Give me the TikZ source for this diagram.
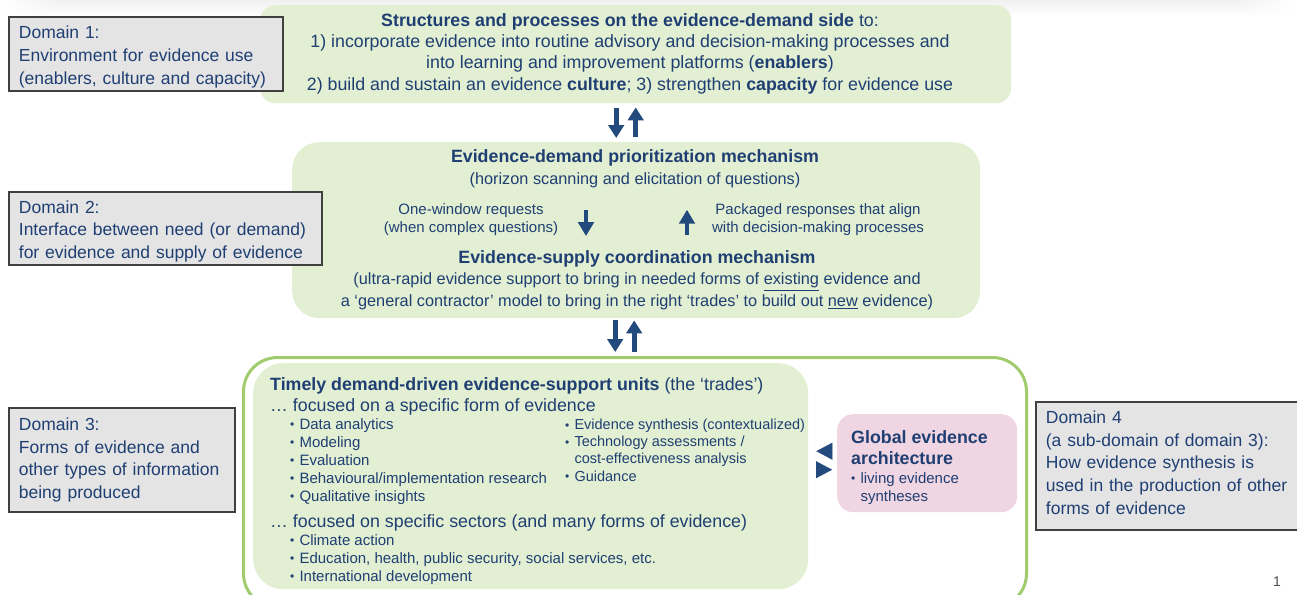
\documentclass[tikz,border=0pt]{standalone}
\usepackage{fontspec}
\setmainfont{Liberation Sans}
\usetikzlibrary{arrows.meta,shadings,fadings}
\definecolor{ink}{HTML}{1F3F73}
\definecolor{arrowblue}{HTML}{234A7D}
\definecolor{greenfill}{HTML}{E2EFD2}
\definecolor{greenline}{HTML}{A0CC6E}
\definecolor{pinkfill}{HTML}{F0D5E3}
\definecolor{greyfill}{HTML}{E4E4E4}
\definecolor{greyline}{HTML}{404040}
\newcommand{\bu}{\makebox[9.3pt][l]{\raisebox{0.5pt}{\fontsize{12}{12}\selectfont •}}}
\newcommand{\pushdown}{\rule{0pt}{18.6pt}}
\newcommand{\pushup}{\rule[-7pt]{0pt}{7pt}}
\tikzset{
  x=1pt,y=-1pt,
  txt/.style={inner sep=0pt,text=ink,font=\fontsize{17.8}{21.4}\selectfont},
  small/.style={inner sep=0pt,text=ink,font=\fontsize{15}{18.1}\selectfont},
  domainbox/.style={draw=greyline,line width=1.8pt,fill=greyfill,anchor=north west,inner ysep=0pt,inner xsep=10pt,text=ink,
    align=left,font=\fontsize{17.5}{22.7}\selectfont},
  panel/.style={fill=greenfill,anchor=north west,inner sep=0pt},
  updown/.style={draw=arrowblue,line width=4.6pt,-{Triangle[length=13pt,width=15.5pt]}},
  updownsmall/.style={draw=arrowblue,line width=4.4pt,-{Triangle[length=14pt,width=15.5pt]}},
  headonly/.style={draw=arrowblue,line width=0.01pt,-{Triangle[length=16pt,width=17pt]}},
}
\begin{document}
\begin{tikzpicture}
\useasboundingbox (0,0) rectangle (1297,594);
\clip (0,0) rectangle (1297,594);
% faint strip along the top
\shade[top color=black!6,bottom color=white] (0,0) rectangle (1297,16);
\fill[white,path fading=east] (0,0) rectangle (60,17);
\fill[white,path fading=west] (1230,0) rectangle (1297,17);
% panels
\node[panel,minimum width=751pt,minimum height=98pt,rounded corners=15pt] (top) at (260,5) {};
\node[panel,minimum width=688pt,minimum height=176pt,rounded corners=27pt] (mid) at (292,142) {};
\node[draw=greenline,line width=3pt,anchor=north west,inner sep=0pt,minimum width=783pt,minimum height=250pt,rounded corners=34pt] (outer) at (242,356) {};
\node[panel,minimum width=555pt,minimum height=226pt,rounded corners=30pt] (inner) at (253,363) {};
\node[fill=pinkfill,anchor=north west,inner sep=0pt,minimum width=180pt,minimum height=98pt,rounded corners=16pt] (pink) at (837,414) {};
% domain boxes
\node[domainbox,minimum height=74pt,text width=254pt] (d1) at (8,16) {\pushdown Domain 1:\\Environment for evidence use\\(enablers, culture and capacity)};
\node[domainbox,minimum height=73pt,text width=293pt] (d2) at (8,191) {\pushdown Domain 2:\\Interface between need (or demand)\\for evidence and supply of evidence};
\node[domainbox,minimum height=104pt,text width=206pt] (d3) at (8,407) {Domain 3:\\Forms of evidence and\\other types of information\\being produced};
\node[domainbox,minimum height=128pt,text width=254pt] (d4) at (1035,401) {Domain 4\\(a sub-domain of domain 3):\\How evidence synthesis is\\used in the production of other\\forms of evidence\pushup};
% top panel text
\node[txt,align=center] (toptext) at (630,53.5) {\textbf{Structures and processes on the evidence-demand side} to:\\1) incorporate evidence into routine advisory and decision-making processes and\\into learning and improvement platforms (\textbf{enablers})\\2) build and sustain an evidence \textbf{culture}; 3) strengthen \textbf{capacity} for evidence use};
% middle panel text
\node[txt,align=center] (demand) at (635,168.5) {\textbf{Evidence-demand prioritization mechanism}\\[0.4pt]\fontsize{16.3}{20}\selectfont(horizon scanning and elicitation of questions)};
\node[small,align=center] (onewin) at (471,220) {One-window requests\\(when complex questions)};
\node[small,align=center] (packaged) at (818,220) {Packaged responses that align\\with decision-making processes};
\node[txt,align=center] (supply) at (637,280) {\textbf{Evidence-supply coordination mechanism}\\[0.4pt]\fontsize{16.3}{20}\selectfont(ultra-rapid evidence support to bring in needed forms of \underline{existing} evidence and\\\fontsize{16.3}{20}\selectfont a ‘general contractor’ model to bring in the right ‘trades’ to build out \underline{new} evidence)};
% inner panel text
\node[txt,anchor=west] (unitstitle) at (270,386) {\textbf{Timely demand-driven evidence-support units} (the ‘trades’)};
\node[txt,anchor=west] (formhead) at (270,407) {… focused on a specific form of evidence};
\node[small,anchor=north west,align=left] (leftlist) at (290,418) {\bu Data analytics\\\bu Modeling\\\bu Evaluation\\\bu Behavioural/implementation research\\\bu Qualitative insights};
\node[small,anchor=north west,align=left,font=\fontsize{14.5}{17.1}\selectfont] (rightlist) at (565,419) {\bu Evidence synthesis (contextualized)\\\bu Technology assessments /\\\hspace*{9.3pt}cost-effectiveness analysis\\\bu Guidance};
\node[txt,anchor=west] (sectorhead) at (270,523) {… focused on specific sectors (and many forms of evidence)};
\node[small,anchor=north west,align=left] (sectorlist) at (290,534) {\bu Climate action\\\bu Education, health, public security, social services, etc.\\\bu International development};
% pink panel text
\node[txt,anchor=north west,align=left] (globaltitle) at (851,430) {\textbf{Global evidence}\\\textbf{architecture}};
\node[small,anchor=north west,align=left] (globallist) at (851,472) {\bu living evidence\\\hspace*{9.3pt}syntheses};
\node[inner sep=0pt,text=black!70,font=\fontsize{14}{16}\selectfont] (pagenum) at (1277,582) {1};
% arrows top -- mid
\draw[updown,shorten <=5pt,shorten >=4pt] ([xshift=-19.5pt]top.south) -- ([xshift=-19.5pt]top.south |- mid.north);
\draw[updown,shorten <=5pt,shorten >=4pt] (top.south |- mid.north) -- (top.south);
% arrows mid -- outer
\draw[updown,shorten <=2pt,shorten >=4pt] ([xshift=-21pt]mid.south) -- ([xshift=-21pt]mid.south |- outer.north);
\draw[updown,shorten <=4pt,shorten >=2pt] ([xshift=-2pt]mid.south |- outer.north) -- ([xshift=-2pt]mid.south);
% arrows inside mid
\coordinate (dnx) at (586,0);
\coordinate (upx) at (687,0);
\draw[updownsmall,shorten <=22pt,shorten >=14pt] (dnx |- demand.south) -- (dnx |- supply.north);
\draw[updownsmall,shorten <=15pt,shorten >=22pt] (upx |- supply.north) -- (upx |- demand.south);
% arrows between inner and pink
\draw[headonly,shorten <=5pt,shorten >=8pt] ([yshift=12pt]pink.west) -- ([yshift=12pt]pink.west -| inner.east);
\draw[headonly,shorten <=8pt,shorten >=5pt] ([yshift=-6.5pt]pink.west -| inner.east) -- ([yshift=-6.5pt]pink.west);
\end{tikzpicture}
\end{document}
